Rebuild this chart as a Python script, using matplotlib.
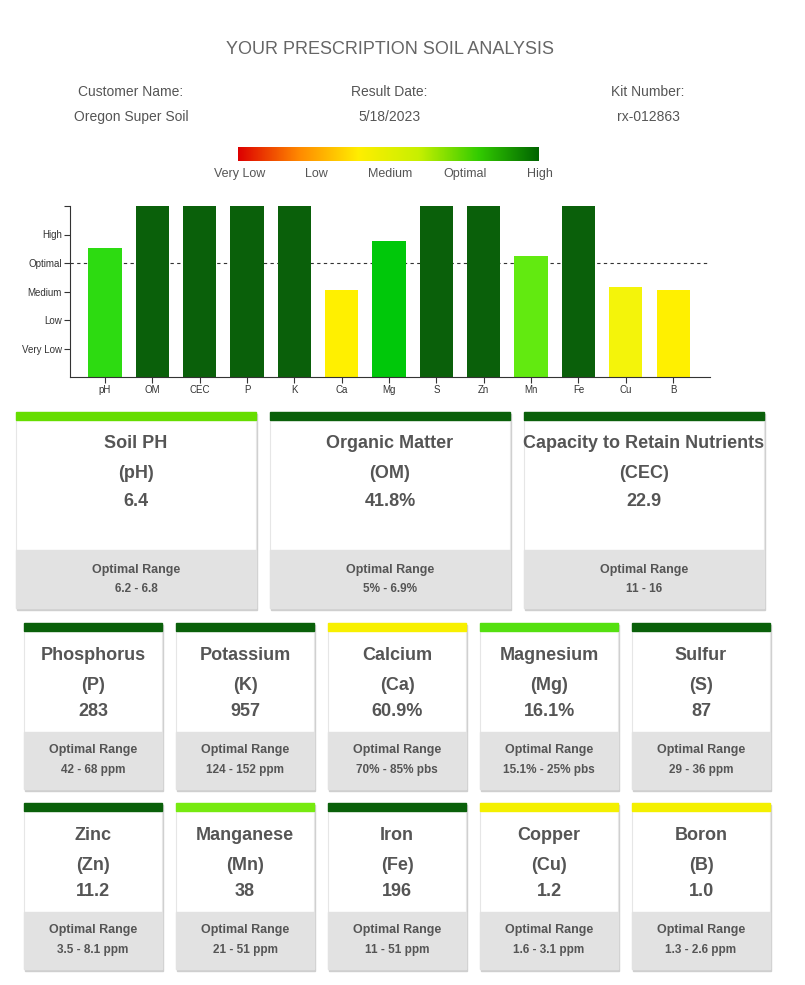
import matplotlib
matplotlib.use("Agg")
import matplotlib.pyplot as plt
import numpy as np
from matplotlib.patches import Rectangle
from matplotlib.colors import LinearSegmentedColormap

plt.rcParams["font.family"] = "Liberation Sans"

W, H = 805, 985
categories = ["pH", "OM", "CEC", "P", "K", "Ca", "Mg", "S", "Zn", "Mn", "Fe", "Cu", "B"]
levels = [4.53, 6, 6, 6, 6, 3.05, 4.77, 6, 6, 4.25, 6, 3.16, 3.05]
bar_colors = ["#2ddb11", "#0a600a", "#0a600a", "#0a600a", "#0a600a", "#fff000", "#00c80a",
              "#0a600a", "#0a600a", "#62ea10", "#0a600a", "#f4f40a", "#fff000"]
card_colors = ["#66dd00", "#0a600a", "#0a600a", "#0a600a", "#0a600a", "#f8f000", "#55e010",
               "#0a600a", "#0a600a", "#77ea10", "#0a600a", "#f4f000", "#f4f000"]
level_labels = ["Very Low", "Low", "Medium", "Optimal", "High"]

card_names = ["Soil PH", "Organic Matter", "Capacity to Retain Nutrients", "Phosphorus", "Potassium",
              "Calcium", "Magnesium", "Sulfur", "Zinc", "Manganese", "Iron", "Copper", "Boron"]
card_symbols = ["(pH)", "(OM)", "(CEC)", "(P)", "(K)", "(Ca)", "(Mg)", "(S)", "(Zn)", "(Mn)", "(Fe)", "(Cu)", "(B)"]
card_values = ["6.4", "41.8%", "22.9", "283", "957", "60.9%", "16.1%", "87", "11.2", "38", "196", "1.2", "1.0"]
card_ranges = ["6.2 - 6.8", "5% - 6.9%", "11 - 16", "42 - 68 ppm", "124 - 152 ppm", "70% - 85% pbs",
               "15.1% - 25% pbs", "29 - 36 ppm", "3.5 - 8.1 ppm", "21 - 51 ppm", "11 - 51 ppm",
               "1.6 - 3.1 ppm", "1.3 - 2.6 ppm"]

fig = plt.figure(figsize=(W/100, H/100), dpi=100)
fig.patch.set_facecolor("white")
ov = fig.add_axes([0, 0, 1, 1])
ov.set_xlim(0, W); ov.set_ylim(H, 0); ov.axis("off")

txt = "#555555"
ov.text(390, 50, "YOUR PRESCRIPTION SOIL ANALYSIS", ha="center", va="center", fontsize=13, color="#666666")
for x, a, b in [(131, "Customer Name:", "Oregon Super Soil"), (389, "Result Date:", "5/18/2023"), (648, "Kit Number:", "rx-012863")]:
    ov.text(x, 92, a, ha="center", va="center", fontsize=10, color=txt)
    ov.text(x, 117, b, ha="center", va="center", fontsize=10, color=txt)

cmap = LinearSegmentedColormap.from_list("g", ["#dd0000", "#ff8800", "#ffee00", "#c8f000", "#33cc00", "#006400"])
grad = np.linspace(0, 1, 256)[None, :]
ov.imshow(grad, cmap=cmap, aspect="auto", extent=(238, 538, 161, 147))
for x, l in zip([240, 316, 390, 465, 540], level_labels):
    ov.text(x, 174, l, ha="center", va="center", fontsize=9, color=txt)

ax = fig.add_axes([70/W, 1-377/H, 640/W, (377-206)/H])
x = np.arange(len(categories))
ax.bar(x, levels, width=0.7, color=bar_colors, zorder=2)
ax.axhline(4, color="#333333", lw=0.8, ls=(0, (3, 3)), zorder=1)
ax.set_xlim(-0.74, 12.78)
ax.set_ylim(0, 6)
ax.set_yticks([1, 2, 3, 4, 5, 6])
ax.set_yticklabels(level_labels + [""], fontsize=7, color="#333333")
ax.set_xticks(x)
ax.set_xticklabels(categories, fontsize=7, color="#333333")
for s in ["top", "right"]:
    ax.spines[s].set_visible(False)
for s in ["left", "bottom"]:
    ax.spines[s].set_color("#333333")
ax.tick_params(length=4, color="#333333", pad=2)

def card(x0, x1, top, gray_top, bottom, i, big):
    w = x1 - x0
    ov.add_patch(Rectangle((x0+1, top+2), w, bottom-top, color="#cfcfcf", zorder=1))
    ov.add_patch(Rectangle((x0, top), w, bottom-top, facecolor="white", edgecolor="#e6e6e6", lw=0.8, zorder=2))
    ov.add_patch(Rectangle((x0, gray_top), w, bottom-gray_top, color="#e2e2e2", zorder=3))
    ov.add_patch(Rectangle((x0, top), w, 8, color=card_colors[i], zorder=4))
    cx = (x0 + x1) / 2
    if big:
        ys = [top+32, top+61, top+90]
        ry = [gray_top+20, gray_top+39]
    else:
        ys = [top+33, top+62, top+89]
        ry = [gray_top+18, gray_top+38]
    for y, s in zip(ys, [card_names[i], card_symbols[i], card_values[i]]):
        ov.text(cx, y, s, ha="center", va="center", fontsize=13, color=txt, weight="bold", zorder=5)
    ov.text(cx, ry[0], "Optimal Range", ha="center", va="center", fontsize=9, color=txt, weight="bold", zorder=5)
    ov.text(cx, ry[1], card_ranges[i], ha="center", va="center", fontsize=8.5, color=txt, weight="bold", zorder=5)

for j, (a, b) in enumerate([(16, 256), (270, 510), (524, 764)]):
    card(a, b, 412, 550, 608, j, True)
row = [(24, 162), (176, 314), (328, 466), (480, 618), (632, 770)]
for j, (a, b) in enumerate(row):
    card(a, b, 623, 732, 789, 3+j, False)
for j, (a, b) in enumerate(row):
    card(a, b, 803, 912, 969, 8+j, False)

fig.savefig("out.png", dpi=100, facecolor="white")
